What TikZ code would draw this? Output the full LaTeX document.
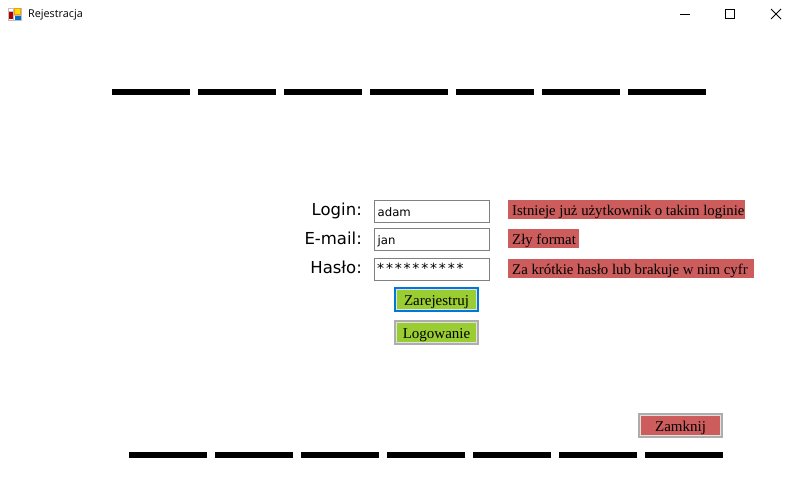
\documentclass[tikz,border=0pt]{standalone}
\usepackage{fontspec}
\setmainfont{Liberation Serif}
\newfontfamily\uifont{DejaVu Sans}
\newfontfamily\passfont[LetterSpace=13]{DejaVu Sans}
\newfontfamily\titlefont{Open Sans}
\usetikzlibrary{positioning}
\definecolor{btnred}{RGB}{205,92,92}
\definecolor{btngreen}{RGB}{154,205,50}
\definecolor{btnface}{RGB}{225,225,225}
\definecolor{btngrey}{RGB}{173,173,173}
\definecolor{btnblue}{RGB}{0,120,215}
\tikzstyle{bar} = [fill=black, inner sep=0pt, minimum width=78pt, minimum height=6pt]
\tikzstyle{caption} = [anchor=base east, inner sep=0pt, font=\uifont\fontsize{16.5}{18}\selectfont]
\tikzstyle{field} = [draw=black!50, line width=1pt, inner sep=0pt, minimum width=115pt, minimum height=22pt]
\tikzstyle{value} = [anchor=base west, inner sep=0pt, font=\uifont\fontsize{11.7}{14}\selectfont]
\tikzstyle{warn} = [anchor=north west, fill=btnred, inner sep=0pt, text height=15pt, text depth=4pt, font=\fontsize{14.8}{17}\selectfont]
\tikzstyle{frame} = [draw=btngrey, fill=btnface, line width=2pt, inner sep=0pt, minimum width=83pt, minimum height=23pt]
\tikzstyle{face} = [inner sep=0pt, minimum width=79pt, text height=15pt, text depth=4pt, font=\fontsize{15}{17}\selectfont]

\begin{document}
\begin{tikzpicture}[x=1pt,y=-1pt,node distance=86pt]
\useasboundingbox (0,0) rectangle (799,480);

% title bar
\node[anchor=west, inner sep=0pt, font=\titlefont\fontsize{10.8}{13}\selectfont] (title) at (28,15) {Rejestracja};
\fill[black!25] (8,8) rectangle (22,21);
\fill[white] (9,9) rectangle (13,11);
\fill[white] (9,19) rectangle (13,20);
\fill[white] (14,16) rectangle (15,20);
\fill[red!70!black] (9,12) rectangle (13,19);
\fill[orange!80!yellow] (14,8) rectangle (21,15);
\fill[yellow!80!orange] (15,9) rectangle (20,14);
\fill[blue!45!cyan!80!black] (15,16) rectangle (21,20);
\draw[line width=1pt] (680,14.5) -- (690,14.5);
\draw[line width=1pt] (725.5,9.5) rectangle (734.5,18.5);
\draw[line width=0.8pt] (771,9) -- (781,19);
\draw[line width=0.8pt] (781,9) -- (771,19);

% upper row
\node[bar] (t1) at (151,92) {};
\node[bar, right of = t1] (t2) {};
\node[bar, right of = t2] (t3) {};
\node[bar, right of = t3] (t4) {};
\node[bar, right of = t4] (t5) {};
\node[bar, right of = t5] (t6) {};
\node[bar, right of = t6] (t7) {};

% lower row
\node[bar] (b1) at (168,455) {};
\node[bar, right of = b1] (b2) {};
\node[bar, right of = b2] (b3) {};
\node[bar, right of = b3] (b4) {};
\node[bar, right of = b4] (b5) {};
\node[bar, right of = b5] (b6) {};
\node[bar, right of = b6] (b7) {};

% form
\node[caption] (l1) at (362,215) {Login:};
\node[caption] (l2) at (362,244) {E-mail:};
\node[caption] (l3) at (362,273) {Hasło:};

\node[field] (f1) at (432,211) {};
\node[field] (f2) at (432,239) {};
\node[field] (f3) at (432,269.5) {};
\node[value] (v1) at (377.5,216) {adam};
\node[value] (v2) at (377.5,244) {jan};
\node[value, font=\passfont\fontsize{14}{16}\selectfont] (v3) at (377,273) {**********};

\node[warn] (w1) at (508,200) {\makebox[237pt][l]{\hspace{4pt}Istnieje już użytkownik o takim loginie}};
\node[warn] (w2) at (508,229) {\makebox[71pt][l]{\hspace{4pt}Zły format}};
\node[warn] (w3) at (508,259) {\makebox[246pt][l]{\hspace{4pt}Za krótkie hasło lub brakuje w nim cyfr}};

% buttons
\node[frame, draw=btnblue] (reg) at (436.5,299.5) {};
\node[face, fill=btngreen] (regtext) at (reg) {Zarejestruj};
\node[frame] (log) at (436.5,332.5) {};
\node[face, fill=btngreen] (logtext) at (log) {Logowanie};
\node[frame] (close) at (680.5,425.5) {};
\node[face, fill=btnred] (closetext) at (close) {Zamknij};

\end{tikzpicture}
\end{document}
